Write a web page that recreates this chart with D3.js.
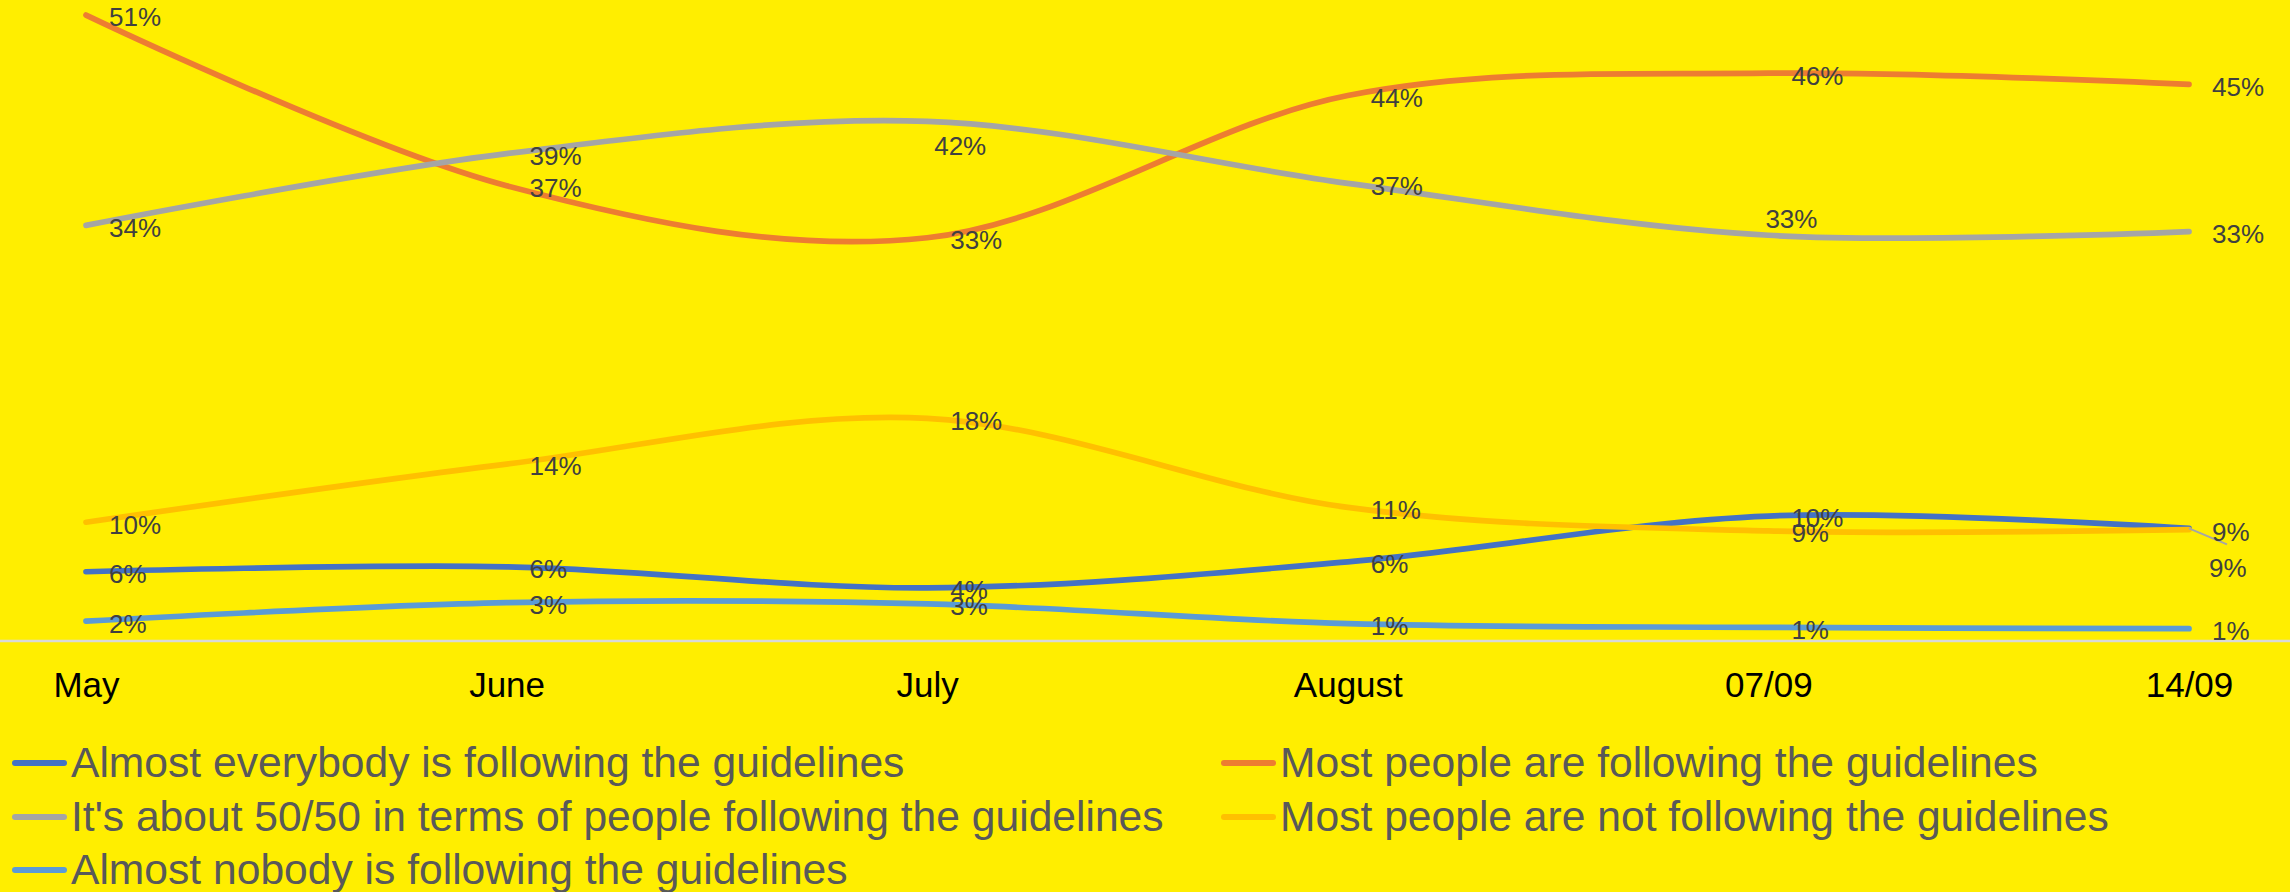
<!DOCTYPE html>
<html>
<head>
<meta charset="utf-8">
<script src="https://cdn.jsdelivr.net/npm/d3@7"></script>
<style>
  html, body { margin: 0; padding: 0; background: #FFEE00; }
  svg { display: block; }
  text { font-family: "Liberation Sans", Arial, Helvetica, sans-serif; }
</style>
</head>
<body>
<svg id="chart" width="2290" height="892"></svg>
<script>
// ---------- data ----------
const categories = ["May", "June", "July", "August", "07/09", "14/09"];
const almostEverybody   = [5.6, 6.0, 4.3, 6.4, 10.1, 9.1];
const mostFollowing     = [50.6, 36.8, 32.6, 44.1, 45.9, 45.0];
const fiftyFifty        = [33.6, 39.4, 42.0, 37.0, 32.8, 33.1];
const mostNotFollowing  = [9.6, 14.3, 18.0, 10.8, 8.9, 9.0];
const almostNobody      = [1.6, 3.1, 3.0, 1.4, 1.1, 1.0];
const seriesNames = [
  "Almost everybody is following the guidelines",
  "Most people are following the guidelines",
  "It's about 50/50 in terms of people following the guidelines",
  "Most people are not following the guidelines",
  "Almost nobody is following the guidelines"
];

// ---------- styling / layout ----------
const W = 2290, H = 892;
const colors = ["#4472C4", "#ED7D31", "#A5A5A5", "#FFC000", "#5B9BD5"];
const seriesValues = [almostEverybody, mostFollowing, fiftyFifty, mostNotFollowing, almostNobody];
// manual label nudges (series index, point index) -> [dx, dy]
const labelNudge = {
  "2-2": [-16, 22],
  "2-4": [-26, -19],
  "0-5": [-3, 37]
};

const svg = d3.select("#chart");
svg.append("rect").attr("width", W).attr("height", H).attr("fill", "#FFEE00");

const x = d3.scalePoint().domain(categories).range([86, 2189]);
const y = d3.scaleLinear().domain([0, 50]).range([641, 22.5]);

// axis line (full width)
svg.append("line")
  .attr("x1", 0).attr("x2", W)
  .attr("y1", y(0)).attr("y2", y(0))
  .attr("stroke", "#D9D9D9").attr("stroke-width", 2.5);

// category axis
const axisG = svg.append("g")
  .attr("transform", `translate(0,${y(0)})`)
  .call(d3.axisBottom(x).tickSize(0).tickPadding(0));
axisG.select(".domain").remove();
axisG.selectAll("text")
  .attr("y", 56).attr("dy", 0)
  .attr("fill", "#000")
  .style("font-size", "35px")
  .style("font-family", "'Liberation Sans', Arial, sans-serif");

const line = d3.line()
  .x((d, i) => x(categories[i]))
  .y(d => y(d))
  .curve(d3.curveCardinal.tension(0));

const linesG = svg.append("g");
seriesValues.forEach((vals, s) => {
  linesG.append("path")
    .datum(vals)
    .attr("d", line)
    .attr("fill", "none")
    .attr("stroke", colors[s])
    .attr("stroke-width", 5.7)
    .attr("stroke-linecap", "round")
    .attr("stroke-linejoin", "round");
});

// leader line for moved label (series 0, last point)
{
  const px = x(categories[5]), py = y(almostEverybody[5]);
  svg.append("line")
    .attr("x1", px).attr("y1", py)
    .attr("x2", px + 38).attr("y2", py + 16)
    .attr("stroke", "#A6A6A6").attr("stroke-width", 2);
}

// data labels
const labelsG = svg.append("g");
seriesValues.forEach((vals, s) => {
  vals.forEach((v, i) => {
    const n = labelNudge[s + "-" + i] || [0, 0];
    labelsG.append("text")
      .attr("x", x(categories[i]) + 23 + n[0])
      .attr("y", y(v) + 2 + 9.3 + n[1])
      .attr("fill", "#404040")
      .style("font-size", "26px")
      .text(Math.round(v) + "%");
  });
});

// legend
const legendItems = [
  { s: 0, col: 0, row: 0 },
  { s: 1, col: 1, row: 0 },
  { s: 2, col: 0, row: 1 },
  { s: 3, col: 1, row: 1 },
  { s: 4, col: 0, row: 2 }
];
const colX = [12, 1221];
const rowY = [762, 816, 869];
const legendG = svg.append("g");
legendItems.forEach(it => {
  const g = legendG.append("g").attr("transform", `translate(${colX[it.col]},${rowY[it.row]})`);
  g.append("line")
    .attr("x1", 3).attr("x2", 52).attr("y1", 1).attr("y2", 1)
    .attr("stroke", colors[it.s]).attr("stroke-width", 6)
    .attr("stroke-linecap", "round");
  g.append("text")
    .attr("x", 59).attr("y", 15)
    .attr("fill", "#595959")
    .style("font-size", "42.6px")
    .text(seriesNames[it.s]);
});
</script>
</body>
</html>
